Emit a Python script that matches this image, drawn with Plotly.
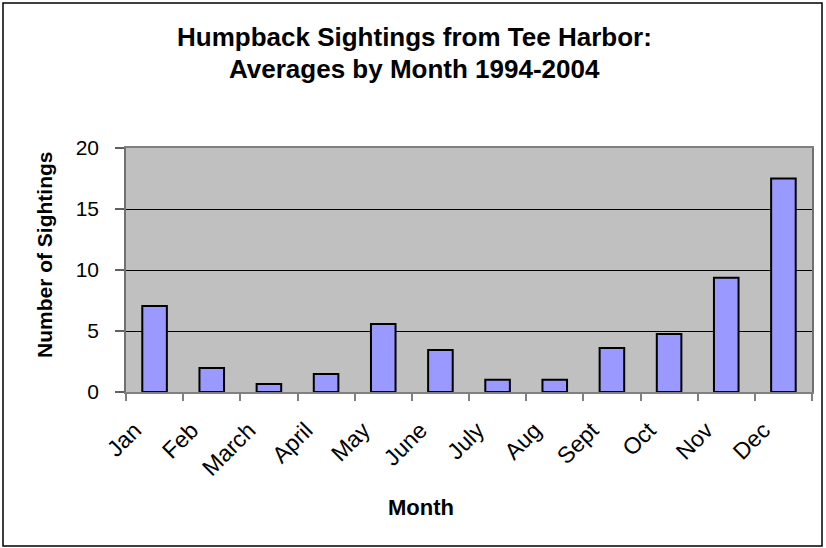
import plotly.graph_objects as go

months = ["Jan", "Feb", "March", "April", "May", "June", "July", "Aug", "Sept", "Oct", "Nov", "Dec"]
sightings = [7.05, 1.97, 0.66, 1.48, 5.57, 3.44, 1.0, 1.0, 3.6, 4.75, 9.37, 17.5]
y_ticks = [0, 5, 10, 15, 20]

title_lines = ["Humpback Sightings from Tee Harbor:", "Averages by Month 1994-2004"]

FONT = "Liberation Sans, Arial, sans-serif"

# plot area in pixels
L, R, T, B = 126, 812, 148, 392
PW, PH = R - L, B - T

def px_x(x):
    return (x - L) / PW

def px_y(y):
    return (B - y) / PH

fig = go.Figure()
fig.add_trace(go.Bar(
    x=months, y=sightings,
    marker=dict(color="#9999FF", line=dict(color="black", width=2)),
))

fig.update_layout(
    width=826, height=548,
    margin=dict(l=L, r=826 - R, t=T, b=548 - B),
    paper_bgcolor="white",
    plot_bgcolor="#C0C0C0",
    bargap=0.57,
    showlegend=False,
    font=dict(family=FONT, color="black"),
)
fig.update_xaxes(
    type="category",
    tickangle=-45,
    tickfont=dict(size=23, family=FONT),
    ticks="outside", ticklen=7, tickcolor="#808080", tickwidth=1.5,
    tickson="boundaries",
    ticklabelstandoff=14, ticklabelshift=-20,
    showline=True, linecolor="#808080", linewidth=1.5, mirror=True,
    showgrid=False,
)
fig.update_yaxes(
    range=[0, 20],
    tickvals=y_ticks,
    tickfont=dict(size=21, family=FONT),
    ticks="outside", ticklen=9, tickcolor="#606060", tickwidth=1.5,
    ticklabelstandoff=12,
    showline=True, linecolor="#707070", linewidth=1.5, mirror=True,
    showgrid=True, gridcolor="black", gridwidth=1,
    zeroline=False,
)

# Title lines
fig.add_annotation(text="<b>%s</b>" % title_lines[0], xref="paper", yref="paper",
                   x=px_x(414), y=px_y(37), xanchor="center", yanchor="middle",
                   showarrow=False, font=dict(size=26, family=FONT))
fig.add_annotation(text="<b>%s</b>" % title_lines[1], xref="paper", yref="paper",
                   x=px_x(414), y=px_y(69), xanchor="center", yanchor="middle",
                   showarrow=False, font=dict(size=26, family=FONT))
# Axis titles
fig.add_annotation(text="<b>Month</b>", xref="paper", yref="paper",
                   x=px_x(421), y=px_y(507), xanchor="center", yanchor="middle",
                   showarrow=False, font=dict(size=22, family=FONT))
fig.add_annotation(text="<b>Number of Sightings</b>", xref="paper", yref="paper",
                   x=px_x(44), y=px_y(255), xanchor="center", yanchor="middle",
                   textangle=-90, showarrow=False, font=dict(size=21, family=FONT))

# Outer chart border
fig.add_shape(type="rect", xref="paper", yref="paper",
              x0=px_x(3), x1=px_x(822), y0=px_y(546), y1=px_y(3),
              line=dict(color="black", width=1.5), fillcolor="rgba(0,0,0,0)")

fig.write_html("out.html")
